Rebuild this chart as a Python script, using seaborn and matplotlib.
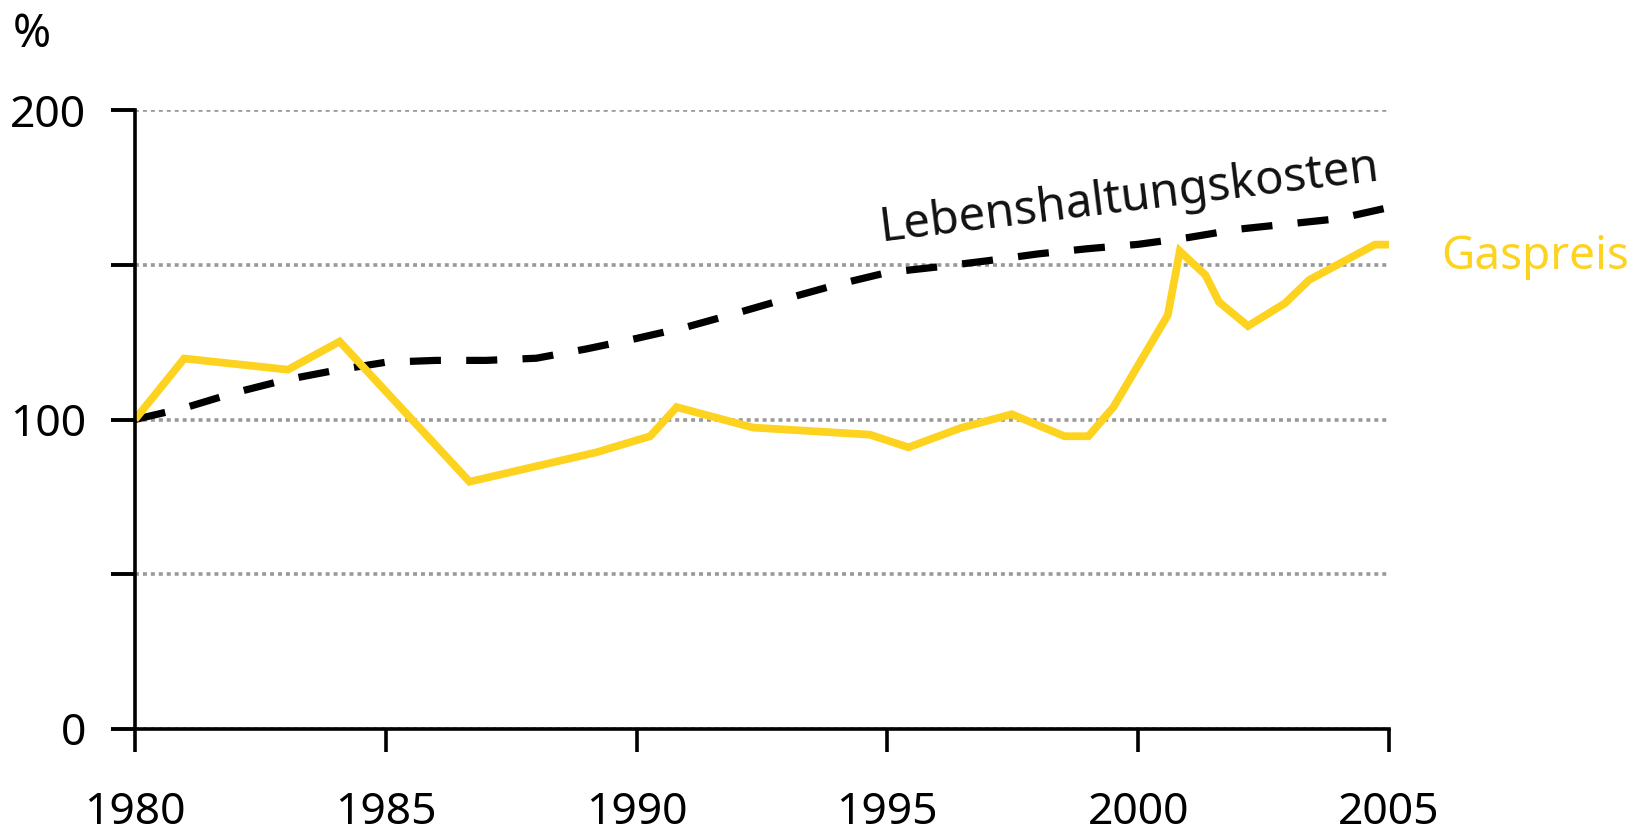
import matplotlib
matplotlib.use("Agg")
import matplotlib.pyplot as plt
import seaborn as sns
import pandas as pd

# Gaspreis (index 1980 = 100)
gas_years = [1980.0, 1980.98, 1983.05, 1984.08, 1986.67, 1989.2, 1990.27, 1990.8,
             1992.32, 1994.65, 1995.42, 1996.47, 1997.48, 1998.53, 1999.01, 1999.51,
             2000.59, 2000.83, 2001.34, 2001.61, 2002.19, 2002.93, 2003.41, 2004.72, 2005.0]
gas_values = [100, 119.7, 116.1, 125.2, 79.9, 89.4, 94.6, 104.0,
              97.4, 95.1, 91.0, 97.3, 101.7, 94.6, 94.6, 104.1,
              133.7, 154.4, 146.7, 138.0, 130.2, 137.6, 145.1, 156.5, 156.5]

# Lebenshaltungskosten (index 1980 = 100)
cpi_years = list(range(1980, 2006))
cpi_values = [100, 103.8, 108.7, 112.8, 115.9, 118.5, 119.1, 119.1, 119.8, 122.8,
              126.2, 129.9, 134.4, 139.1, 143.6, 147.5, 149.3, 151.3, 153.5, 155.2,
              156.6, 158.8, 161.5, 163.2, 164.9, 168.5]

x_ticks = [1980, 1985, 1990, 1995, 2000, 2005]
y_ticks = [0, 50, 100, 150, 200]
y_tick_labels = ['0', '', '100', '', '200']

YELLOW = '#FDD320'

sns.set_theme(style='white')
plt.rcParams['font.family'] = ['Noto Sans', 'DejaVu Sans']
plt.rcParams['font.weight'] = 'medium'

gas = pd.DataFrame({'Jahr': gas_years, 'Wert': gas_values})
cpi = pd.DataFrame({'Jahr': cpi_years, 'Wert': cpi_values})

fig = plt.figure(figsize=(16.42, 8.36), dpi=100)
fig.patch.set_facecolor('white')
ax = fig.add_axes([0.0822, 0.128, 0.7637, 0.7404])

sns.lineplot(data=cpi, x='Jahr', y='Wert', ax=ax, color='black', linewidth=5.2,
             estimator=None, sort=False)
ax.lines[-1].set_dashes([4.3, 3.5])
ax.lines[-1].set_dash_capstyle('butt')
sns.lineplot(data=gas, x='Jahr', y='Wert', ax=ax, color=YELLOW, linewidth=5.6,
             estimator=None, sort=False)
ax.lines[-1].set_solid_joinstyle('miter')
ax.lines[-1].set_solid_capstyle('butt')

ax.set_xlim(1980, 2005)
ax.set_ylim(0, 200)
ax.set_xticks(x_ticks)
ax.set_yticks(y_ticks)
ax.set_yticklabels(y_tick_labels)
ax.set_xlabel('')
ax.set_ylabel('')

for s in ['top', 'right']:
    ax.spines[s].set_visible(False)
for s in ['left', 'bottom']:
    ax.spines[s].set_color('black')
    ax.spines[s].set_linewidth(2.6)
ax.spines['left'].set_zorder(5)

ax.yaxis.grid(True, color='#999999', linewidth=2.6, linestyle=(0, (1.1, 1.1)))
ax.xaxis.grid(False)
ax.set_axisbelow(True)

ax.tick_params(axis='x', direction='out', length=16.5, width=2.6, color='black',
               labelsize=32, pad=28, labelcolor='black', bottom=True)
ax.tick_params(axis='y', direction='out', length=17, width=2.8, color='black',
               labelsize=32, pad=18, labelcolor='black', left=True)

ax.text(1999.83, 171.7, 'Lebenshaltungskosten', rotation=7, rotation_mode='anchor',
        ha='center', va='center', fontsize=34, color='#111111')
ax.text(2006.05, 148.7, 'Gaspreis', ha='left', va='baseline', fontsize=33,
        color=YELLOW, clip_on=False)

fig.text(13 / 1642, 1 - 12 / 836, '%', ha='left', va='top', fontsize=33, color='black')

fig.savefig('out.png', dpi=100, facecolor='white')
